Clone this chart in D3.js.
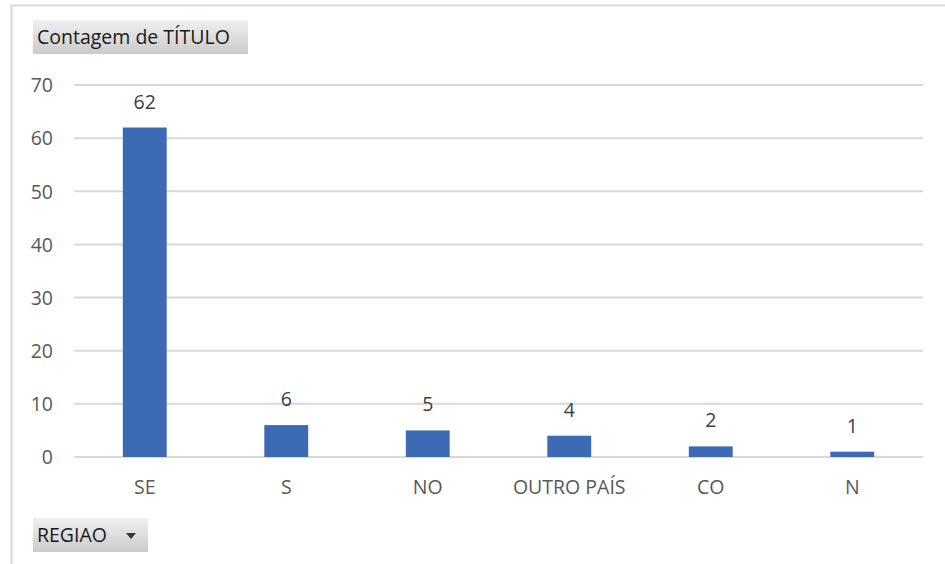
<!DOCTYPE html>
<html><head><meta charset="utf-8">
<script src="https://cdn.jsdelivr.net/npm/d3@7"></script>
<style>body{margin:0;background:#fff;}svg{display:block;font-family:"Open Sans","Noto Sans",sans-serif;}</style>
</head><body>
<svg id="c" width="945" height="564"></svg>
<script>
const categories = ["SE","S","NO","OUTRO PAÍS","CO","N"];
const values = [62,6,5,4,2,1];
const yTicks = [0,10,20,30,40,50,60,70];
const titleText = "Contagem de TÍTULO";
const axisButtonText = "REGIAO";

const FS = 19.5;
const svg = d3.select("#c");
const defs = svg.append("defs");
const g1 = defs.append("linearGradient").attr("id","btn").attr("x1",0).attr("x2",0).attr("y1",0).attr("y2",1);
g1.append("stop").attr("offset","0%").attr("stop-color","#f0f0f0");
g1.append("stop").attr("offset","100%").attr("stop-color","#cbcbcb");

// frame
svg.append("line").attr("x1",11).attr("x2",945).attr("y1",5.5).attr("y2",5.5).attr("stroke","#d9d9d9").attr("stroke-width",2);
svg.append("line").attr("x1",11.5).attr("x2",11.5).attr("y1",5).attr("y2",564).attr("stroke","#d9d9d9").attr("stroke-width",2);

const m = {left:74, right:923, top:85, bottom:457};
const x = d3.scaleBand().domain(categories).range([m.left,m.right]).paddingInner(0.69).paddingOuter(0.345);
const y = d3.scaleLinear().domain([0,70]).range([m.bottom,m.top]);

// gridlines
svg.append("g").selectAll("line").data(yTicks).join("line")
  .attr("x1",m.left).attr("x2",m.right).attr("y1",d=>y(d)).attr("y2",d=>y(d))
  .attr("stroke","#d9d9d9").attr("stroke-width",2);

// y axis labels
const yAxis = d3.axisLeft(y).tickValues(yTicks).tickSize(0).tickPadding(0);
const ya = svg.append("g").attr("transform","translate(53,0)").call(yAxis);
ya.select(".domain").remove();
ya.selectAll("text").attr("fill","#595959").attr("font-size",FS).attr("dy","0.35em").attr("font-family",null);

// bars
svg.append("g").selectAll("rect").data(values).join("rect")
  .attr("x",(d,i)=>x(categories[i])).attr("width",x.bandwidth())
  .attr("y",d=>y(d)).attr("height",d=>y(0)-y(d)).attr("fill","#3d6ab4");

// value labels
svg.append("g").selectAll("text").data(values).join("text")
  .attr("x",(d,i)=>x(categories[i])+x.bandwidth()/2).attr("y",d=>y(d)-19)
  .attr("text-anchor","middle").attr("fill","#404040").attr("font-size",FS).text(d=>d);

// x axis labels
const xAxis = d3.axisBottom(x).tickSize(0).tickPadding(0);
const xa = svg.append("g").attr("transform","translate(0,"+(m.bottom+23)+")").call(xAxis);
xa.select(".domain").remove();
xa.selectAll("text").attr("fill","#595959").attr("font-size",FS).attr("dy","0.71em").attr("font-family",null);
svg.selectAll(".tick text").attr("font-family",null);
svg.selectAll("g").filter(function(){return this.getAttribute("font-family");}).attr("font-family",null);

// title button
svg.append("rect").attr("x",33).attr("y",20).attr("width",215).attr("height",34).attr("fill","url(#btn)");
svg.append("text").attr("x",37).attr("y",44).attr("font-size",FS).attr("fill","#1a1a1a").text(titleText);

// axis field button
svg.append("rect").attr("x",33).attr("y",518).attr("width",115).attr("height",34).attr("fill","url(#btn)");
svg.append("text").attr("x",37).attr("y",542).attr("font-size",FS).attr("fill","#1a1a1a").text(axisButtonText);
svg.append("path").attr("d","M126,533 L136,533 L131,539 Z").attr("fill","#333");
</script>
</body></html>
